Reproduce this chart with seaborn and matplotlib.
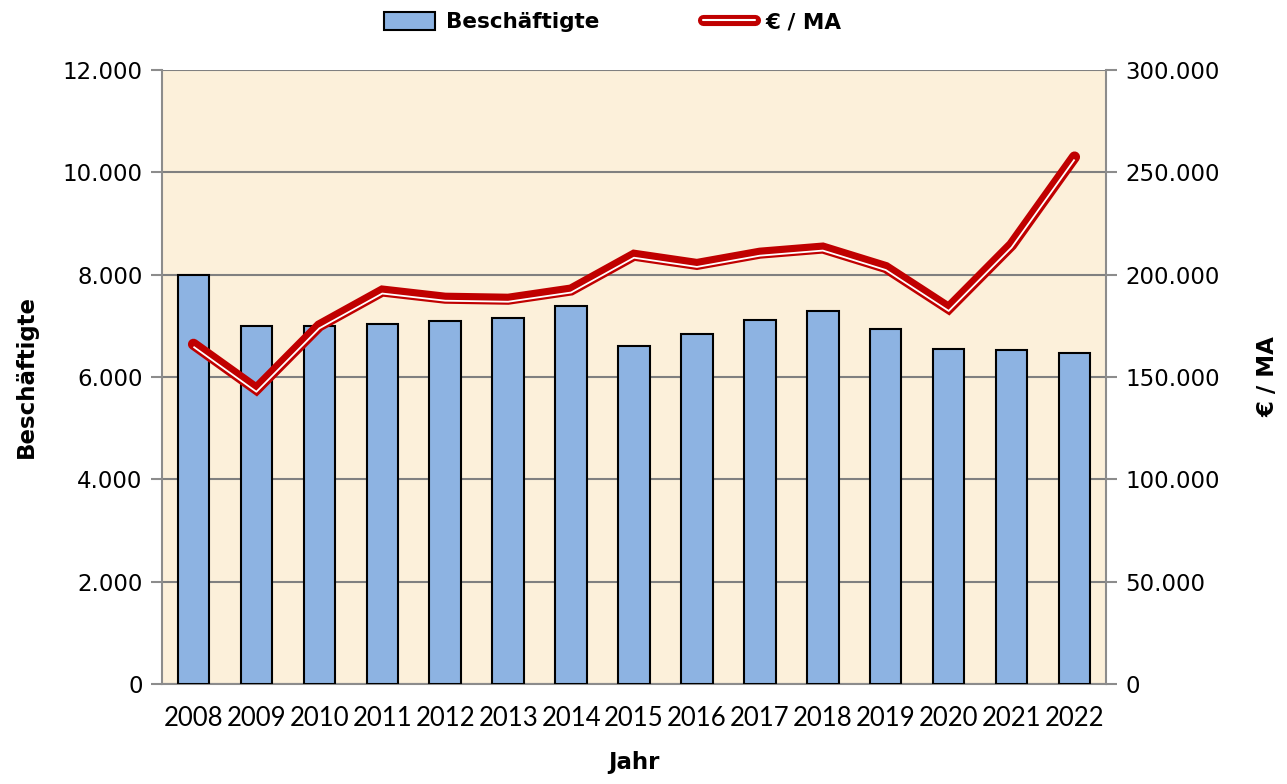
import matplotlib
matplotlib.use("Agg")
import matplotlib.pyplot as plt
import matplotlib.transforms as mtransforms
from matplotlib.ticker import FuncFormatter, MultipleLocator
from matplotlib.patches import Patch
from matplotlib.lines import Line2D
from matplotlib.legend_handler import HandlerTuple
import seaborn as sns
import pandas as pd

years = ["2008", "2009", "2010", "2011", "2012", "2013", "2014", "2015",
         "2016", "2017", "2018", "2019", "2020", "2021", "2022"]
beschaeftigte = [8000, 7000, 7000, 7030, 7090, 7160, 7380, 6610,
                 6840, 7110, 7290, 6940, 6550, 6530, 6460]
euro_pro_ma = [166000, 144000, 175000, 192000, 188500, 188000, 192500, 209500,
               205000, 210500, 213000, 203500, 183500, 214500, 257500]

df = pd.DataFrame({"Jahr": years, "Beschäftigte": beschaeftigte, "EuroMA": euro_pro_ma})

sns.set_theme(style="white")
plt.rcParams["font.family"] = ["DejaVu Sans"]
plt.rcParams["text.color"] = "black"
plt.rcParams["axes.labelcolor"] = "black"
plt.rcParams["xtick.color"] = "black"
plt.rcParams["ytick.color"] = "black"

fig = plt.figure(figsize=(12.87, 7.84), dpi=100)
ax = fig.add_axes([162/1287, 100/784, (1106-162)/1287, (684-70)/784])
bg = "#FCF0DA"
ax.set_facecolor(bg)

sns.barplot(data=df, x="Jahr", y="Beschäftigte", ax=ax, color="#8DB3E2",
            edgecolor="black", linewidth=1.5, width=0.5, saturation=1, zorder=3)
ax.set_xlim(-0.5, len(years) - 0.5)
ax.set_ylim(0, 12000)
ax.yaxis.set_major_locator(MultipleLocator(2000))
fmt = FuncFormatter(lambda v, p: f"{v:,.0f}".replace(",", "."))
ax.yaxis.set_major_formatter(fmt)
ax.grid(axis="y", color="#808080", linewidth=1.5, zorder=0)
ax.grid(axis="x", visible=False)
ax.set_axisbelow(True)

gray = "#8C8C8C"
for s in ["left", "right", "bottom"]:
    ax.spines[s].set_visible(True)
    ax.spines[s].set_color(gray)
    ax.spines[s].set_linewidth(1.5)
ax.spines["top"].set_visible(False)

ax.tick_params(axis="y", which="major", direction="out", length=8, width=1.5,
               color=gray, labelcolor="black", left=True, labelsize=16.5, pad=6)
ax.tick_params(axis="x", length=0, pad=16, labelcolor="black")
for lbl in ax.get_xticklabels():
    lbl.set_fontfamily("Lato")
    lbl.set_fontsize(18.5)

ax.set_ylabel("Beschäftigte", fontsize=16.5, fontweight="bold", labelpad=18, color="black")
ax.set_xlabel("Jahr", fontsize=16.5, fontweight="bold", labelpad=14, color="black")

ax2 = ax.twinx()
ax2.patch.set_visible(False)
ax2.set_ylim(0, 300000)
ax2.yaxis.set_major_locator(MultipleLocator(50000))
ax2.yaxis.set_major_formatter(fmt)
for s in ["left", "right", "bottom", "top"]:
    ax2.spines[s].set_visible(False)
ax2.tick_params(axis="y", which="major", direction="out", length=8, width=1.5,
                color=gray, labelcolor="black", right=True, labelsize=16.5, pad=6)
ax2.grid(False)

xpos = list(range(len(years)))
sns.lineplot(x=xpos, y=euro_pro_ma, ax=ax2, color="#C00000", linewidth=8,
             solid_capstyle="round", solid_joinstyle="miter", zorder=5)
off = mtransforms.offset_copy(ax2.transData, fig=fig, x=0, y=-2.5, units="dots")
ax2.plot(xpos, euro_pro_ma, color="white", linewidth=1.3, transform=off,
         solid_capstyle="butt", zorder=6)
ax2.set_xlim(-0.5, len(years) - 0.5)
ax2.set_ylabel("€ / MA", fontsize=16.5, fontweight="bold", rotation=90,
               labelpad=26, color="black")

h_bar = Patch(facecolor="#8DB3E2", edgecolor="black", linewidth=1.5)
h_line = (Line2D([0], [0], color="#C00000", linewidth=8, solid_capstyle="round"),
          Line2D([0], [0], color="white", linewidth=1.5))
leg = fig.legend([h_bar, h_line], ["Beschäftigte", "€ / MA"], loc="center",
                 bbox_to_anchor=(0.476, 1 - 22/784), ncol=2, frameon=False,
                 prop={"weight": "bold", "size": 15.5}, columnspacing=4.8,
                 handlelength=2.4, handleheight=0.9, handletextpad=0.5,
                 handler_map={tuple: HandlerTuple(ndivide=1, pad=0)})

fig.savefig("out.png", dpi=100)
